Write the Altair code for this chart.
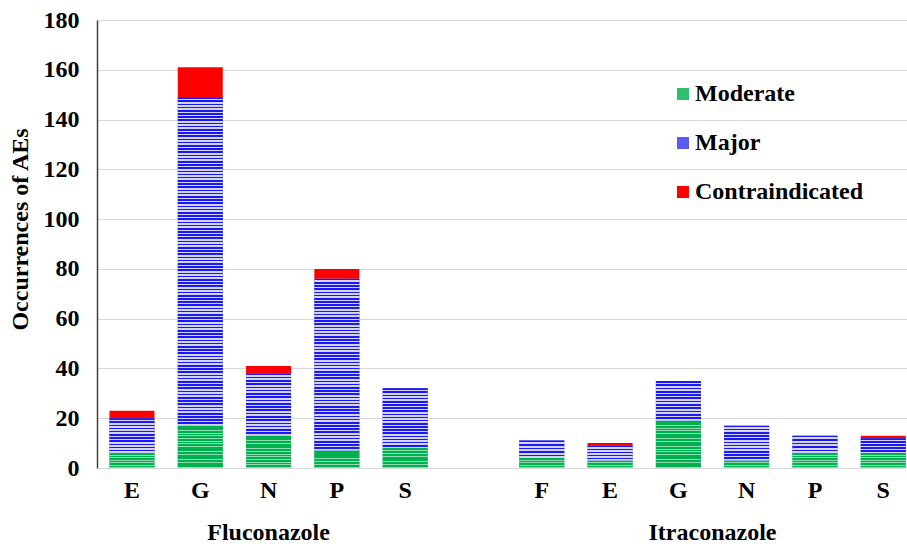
import altair as alt
import pandas as pd

# ---------------- data ----------------
drugs = ["Fluconazole", "Itraconazole"]
severities = ["Moderate", "Major", "Contraindicated"]

flu_cats = ["E", "G", "N", "P", "S"]
flu_moderate = [6, 17, 13, 7, 8]
flu_major = [14, 132, 25, 69, 24]
flu_contra = [3, 12, 3, 4, 0]

itr_cats = ["F", "E", "G", "N", "P", "S"]
itr_moderate = [4, 3, 19, 3, 6, 6]
itr_major = [7, 6, 16, 14, 7, 6]
itr_contra = [0, 1, 0, 0, 0, 1]

y_ticks = [0, 20, 40, 60, 80, 100, 120, 140, 160, 180]

# ---------------- layout / style ----------------
W, H = 810, 448
YMAX = 180
FONT = "Liberation Serif"
GAP = "gap|"
PI, PO, ALIGN = 0.341, 0.1003, 0.91
STEP = W / (12 - PI + 2 * PO)

sev_colors = ["#2fbf6e", "#5a5af2", "#ff0000"]
stripe_style = {
    "Moderate": ("#00b050", "#8fdcb0", 2.7, 0.7),
    "Major": ("#1a1af0", "#d4d4fb", 3.2, 0.5),
}

rows, keys = [], []
for drug, cats, mod, maj, con in [
    (drugs[0], flu_cats, flu_moderate, flu_major, flu_contra),
    (drugs[1], itr_cats, itr_moderate, itr_major, itr_contra),
]:
    for c, a, b, d in zip(cats, mod, maj, con):
        key = f"{drug}|{c}"
        keys.append(key)
        for i, (s, v) in enumerate(zip(severities, [a, b, d])):
            rows.append({"key": key, "drug": drug, "cat": c,
                         "severity": s, "order": i, "value": v})
    if drug == drugs[0]:
        keys.append(GAP)
df = pd.DataFrame(rows)


def stripes(c1, c2, px, period, frac):
    n = max(1, round(px / period))
    stops = []
    for k in range(n):
        a, b, c = k / n, (k + frac) / n, (k + 1) / n
        stops += [{"offset": a, "color": c1}, {"offset": b, "color": c1},
                  {"offset": b, "color": c2}, {"offset": min(c, 1), "color": c2}]
    return {"gradient": "linear", "x1": 0, "y1": 0, "x2": 0, "y2": 1,
            "stops": stops}


conds = []
for r in rows:
    if r["severity"] in stripe_style and r["value"] > 0:
        c1, c2, per, frac = stripe_style[r["severity"]]
        px = r["value"] * H / YMAX
        conds.append({
            "test": f"datum.key === '{r['key']}' && datum.severity === '{r['severity']}'",
            "value": stripes(c1, c2, px, per, frac),
        })

x_enc = alt.X(
    "key:N",
    scale=alt.Scale(domain=keys, paddingInner=PI, paddingOuter=PO,
                    align=ALIGN, round=False),
    axis=alt.Axis(title=None, labelExpr="split(datum.value, '|')[1]",
                  labelAngle=0, ticks=False, tickSize=0, labelPadding=10,
                  domainColor="#d9d9d9", domainWidth=1, grid=False,
                  labelFont=FONT, labelFontSize=24, labelFontWeight="bold",
                  labelColor="black"),
)
y_enc = alt.Y(
    "y0:Q",
    scale=alt.Scale(domain=[0, YMAX], nice=False),
    axis=alt.Axis(values=y_ticks, title="Occurrences of AEs", grid=True,
                  gridColor="#d9d9d9", gridWidth=1, domainColor="#404040",
                  domainWidth=1.5, ticks=False, tickSize=0, labelPadding=18,
                  labelFont=FONT, labelFontSize=24, labelFontWeight="bold",
                  labelColor="black", titleFont=FONT, titleFontSize=24,
                  titleFontWeight="bold", titleColor="black",
                  titleX=-77, titleY=209, titleAngle=270,
                  titleBaseline="middle", titleAlign="center"),
)

base = alt.Chart(df).transform_stack(
    stack="value", groupby=["key"], as_=["y0", "y1"],
    sort=[alt.SortField("order", order="ascending")],
).transform_filter("datum.value > 0")

bars = base.mark_bar(strokeWidth=0).encode(
    x=x_enc,
    y=y_enc,
    y2="y1:Q",
    color=alt.Color(
        "severity:N",
        scale=alt.Scale(domain=severities, range=sev_colors),
        legend=alt.Legend(title=None, orient="none", legendX=574, legendY=62,
                          symbolType="square", symbolSize=144,
                          symbolStrokeWidth=0, labelFont=FONT,
                          labelFontSize=24, labelFontWeight="bold",
                          labelColor="black", rowPadding=25, labelOffset=0,
                          labelLimit=0, padding=0),
    ),
)

striped = base.transform_filter(
    "datum.severity !== 'Contraindicated'"
).mark_bar(strokeWidth=0).encode(
    x="key:N",
    y="y0:Q",
    y2="y1:Q",
    fill=alt.value("transparent", condition=conds),
)

group_df = pd.DataFrame({"key": [f"{drugs[0]}|N", f"{drugs[1]}|G"],
                         "label": drugs})

lab1 = alt.Chart(group_df).transform_filter(
    f"datum.label === '{drugs[0]}'"
).mark_text(font=FONT, fontSize=24, fontWeight="bold", color="black",
            align="center", baseline="alphabetic").encode(
    x="key:N", y=alt.value(520), text="label:N")

lab2 = alt.Chart(group_df).transform_filter(
    f"datum.label === '{drugs[1]}'"
).mark_text(font=FONT, fontSize=24, fontWeight="bold", color="black",
            align="center", baseline="alphabetic", dx=STEP / 2).encode(
    x="key:N", y=alt.value(520), text="label:N")

chart = alt.layer(bars, striped, lab1, lab2).properties(
    width=W, height=H,
    autosize=alt.AutoSizeParams(type="none"),
    padding={"left": 97, "top": 20, "right": 0, "bottom": 79},
    background="white",
).configure_view(stroke=None)

chart.save("out.html", embed_options={"renderer": "svg", "actions": False})
